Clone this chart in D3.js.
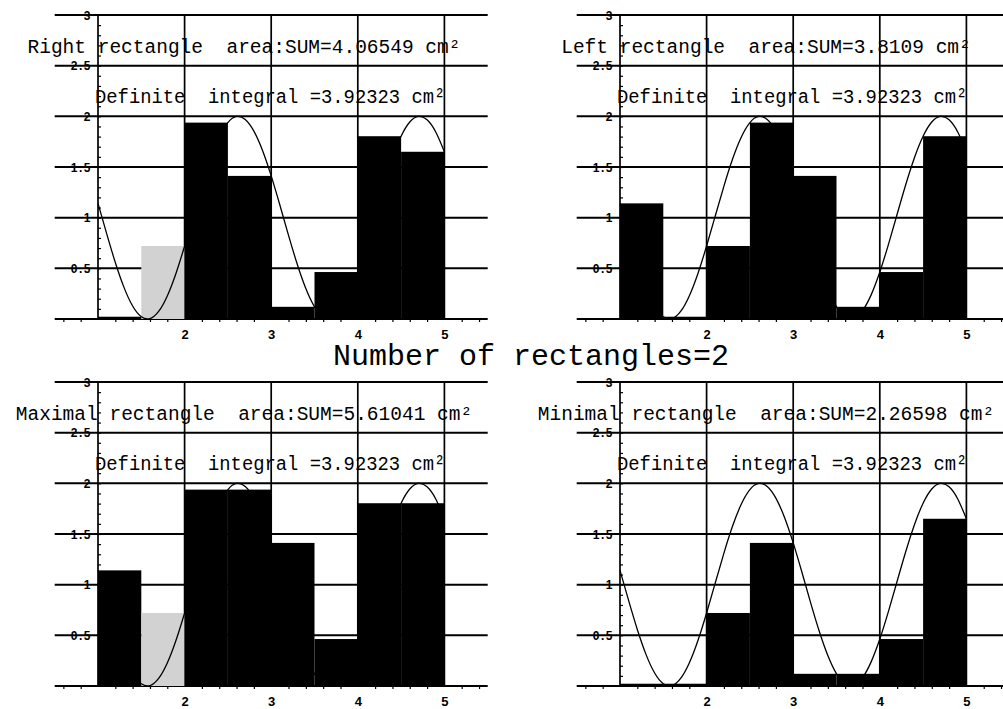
<!DOCTYPE html>
<html>
<head>
<meta charset="utf-8">
<script src="https://cdn.jsdelivr.net/npm/d3@7"></script>
<style>
  html, body { margin: 0; padding: 0; background: #fff; }
  svg { display: block; }
  text { white-space: pre; }
</style>
</head>
<body>
<svg id="chart" width="1003" height="709"></svg>
<script>
// ---- data ----
const rectLefts = [1, 1.5, 2, 2.5, 3, 3.5, 4, 4.5];
const rectWidth = 0.5;
const rightHeights = [0.02247, 0.72058, 1.93800, 1.41212, 0.12031, 0.46343, 1.80378, 1.65029];
const leftHeights  = [1.14112, 0.02247, 0.72058, 1.93800, 1.41212, 0.12031, 0.46343, 1.80378];
const maxHeights   = [1.14112, 0.72058, 1.93800, 1.93800, 1.41212, 0.46343, 1.80378, 1.80378];
const minHeights   = [0.02247, 0.02247, 0.72058, 1.41212, 0.12031, 0.12031, 0.46343, 1.65029];

const curveX = [1.0,1.1,1.2,1.3,1.4,1.5,1.6,1.7,1.8,1.9,2.0,2.1,2.2,2.3,2.4,2.5,2.6,2.7,2.8,2.9,3.0,
                3.1,3.2,3.3,3.4,3.5,3.6,3.7,3.8,3.9,4.0,4.1,4.2,4.3,4.4,4.5,4.6,4.7,4.8,4.9,5.0];
const curveY = [1.1411,0.8423,0.5575,0.3122,0.1284,0.0225,0.0038,0.0742,0.2272,0.4493,0.7206,
                1.0168,1.3115,1.5784,1.7937,1.9380,1.9985,1.9699,1.8546,1.6630,1.4121,
                1.1245,0.8257,0.5425,0.3001,0.1203,0.0191,0.0054,0.0809,0.2380,0.4634,
                0.7368,1.0336,1.3275,1.5921,1.8038,1.9437,1.9993,1.9657,1.8457,1.6503];

const xGridValues = [1, 2, 3, 4, 5];
const xTickValues = [2, 3, 4, 5];
const xTickLabels = ["2", "3", "4", "5"];
const yGridValues = [0, 0.5, 1, 1.5, 2, 2.5, 3];
const yTickValues = [0.5, 1, 1.5, 2, 2.5, 3];
const yTickLabels = ["0.5", "1", "1.5", "2", "2.5", "3"];

const panelTitles = [
  "Right rectangle  area:SUM=4.06549 cm\u00B2",
  "Left rectangle  area:SUM=3.8109 cm\u00B2",
  "Maximal rectangle  area:SUM=5.61041 cm\u00B2",
  "Minimal rectangle  area:SUM=2.26598 cm\u00B2"
];
const integralText = "Definite  integral =3.92323 cm\u00B2";
const mainTitle = "Number of rectangles=2";
const panelHeights = [rightHeights, leftHeights, maxHeights, minHeights];

// ---- layout ----
const svg = d3.select("#chart");
svg.append("rect").attr("width", 1003).attr("height", 709).attr("fill", "#fff");

const originsX = [98, 620];
const originsY = [319, 686];
const unitX = 86.6;
const spanY = 304;
const MONO = "'Liberation Mono', 'DejaVu Sans Mono', monospace";
const SANS = "'Liberation Sans', Arial, sans-serif";

panelHeights.forEach((heights, p) => {
  const ox = originsX[p % 2];
  const oy = originsY[Math.floor(p / 2)];
  const x = d3.scaleLinear().domain([1, 5]).range([ox, ox + 4 * unitX]);
  const y = d3.scaleLinear().domain([0, 3]).range([oy, oy - spanY]);
  const g = svg.append("g");

  // horizontal grid lines
  g.selectAll("line.h").data(yGridValues).join("line")
    .attr("x1", x(0.5)).attr("x2", x(5.5))
    .attr("y1", d => y(d)).attr("y2", d => y(d))
    .attr("stroke", "#000").attr("stroke-width", 2);

  // vertical grid lines
  g.selectAll("line.v").data(xGridValues).join("line")
    .attr("x1", d => x(d)).attr("x2", d => x(d))
    .attr("y1", y(0)).attr("y2", y(3))
    .attr("stroke", "#000").attr("stroke-width", 1.7);

  // rectangles
  g.selectAll("rect.bar").data(rectLefts.map((l, i) => ({ l, h: heights[i], i }))).join("rect")
    .attr("x", d => x(d.l))
    .attr("width", d => x(d.l + rectWidth) - x(d.l))
    .attr("y", d => y(d.h))
    .attr("height", d => y(0) - y(d.h))
    .attr("fill", d => ((p === 0 || p === 2) && d.i === 1) ? "#d2d2d2" : "#000");

  // curve
  const line = d3.line().x(d => x(d[0])).y(d => y(d[1])).curve(d3.curveNatural);
  g.append("path").datum(curveX.map((v, i) => [v, curveY[i]]))
    .attr("d", line).attr("fill", "none").attr("stroke", "#000").attr("stroke-width", 1.3);

  // minor ticks on y axis
  const yMinor = d3.axisRight(y).tickValues(d3.range(1, 30).map(k => k / 10)).tickSize(3).tickFormat("");
  g.append("g").attr("transform", `translate(${x(1)},0)`).call(yMinor)
    .call(s => s.select(".domain").remove())
    .selectAll("line").attr("stroke", "#000").attr("stroke-width", 1.2);

  // minor ticks on x axis
  const xMinor = d3.axisBottom(x).tickValues(d3.range(3, 28).map(k => k / 5).filter(v => Math.abs(v - Math.round(v)) > 1e-6)).tickSize(3).tickFormat("");
  g.append("g").attr("transform", `translate(0,${y(0)})`).call(xMinor)
    .call(s => s.select(".domain").remove())
    .selectAll("line").attr("stroke", "#000").attr("stroke-width", 1.2);

  // x tick labels
  const xAxis = d3.axisBottom(x).tickValues(xTickValues).tickSize(0)
    .tickFormat((d, i) => xTickLabels[i]);
  const xa = g.append("g").attr("transform", `translate(0,${y(0)})`).call(xAxis);
  xa.select(".domain").remove();
  xa.selectAll("text").attr("y", 11).attr("dy", "0.71em")
    .attr("font-family", SANS).attr("font-weight", "bold").attr("font-size", 13).attr("fill", "#000");

  // y tick labels
  const yAxis = d3.axisLeft(y).tickValues(yTickValues).tickSize(0)
    .tickFormat((d, i) => yTickLabels[i]);
  const ya = g.append("g").attr("transform", `translate(${x(1)},0)`).call(yAxis);
  ya.select(".domain").remove();
  ya.selectAll("text").attr("x", -6).attr("dy", "0.36em")
    .attr("font-family", SANS).attr("font-weight", "bold").attr("font-size", 12)
    .attr("letter-spacing", 1.5).attr("fill", "#000");

  // panel texts
  g.append("text").text(panelTitles[p])
    .attr("x", ox + 146).attr("y", oy - 266)
    .attr("text-anchor", "middle")
    .attr("font-family", MONO).attr("font-size", 19.5).attr("fill", "#000");
  g.append("text").text(integralText)
    .attr("x", ox - 3).attr("y", oy - 216)
    .attr("textLength", integralText.length * 11.3).attr("lengthAdjust", "spacingAndGlyphs")
    .attr("font-family", MONO).attr("font-size", 20).attr("fill", "#000");
});

svg.append("text").text(mainTitle)
  .attr("x", 333).attr("y", 365)
  .attr("font-family", MONO).attr("font-size", 30).attr("fill", "#000");
</script>
</body>
</html>
